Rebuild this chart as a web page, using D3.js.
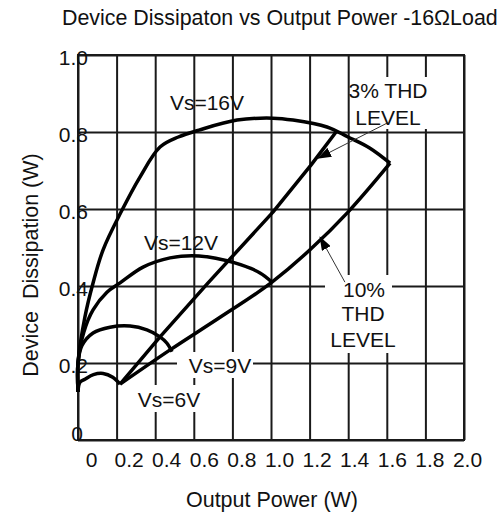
<!DOCTYPE html>
<html>
<head>
<meta charset="utf-8">
<script src="https://cdn.jsdelivr.net/npm/d3@7/dist/d3.min.js"></script>
<style>
	body { margin: 0; background: #fff; }
	svg text { font-family: "Liberation Sans", Arial, sans-serif; font-size: 21px; fill: #111; }
</style>
</head>
<body>
<div class="graphic"></div>
<script>
// ticks
var powerTicks = [0, 0.2, 0.4, 0.6, 0.8, 1.0, 1.2, 1.4, 1.6, 1.8, 2.0]
var powerLabels = ['0', '0.2', '0.4', '0.6', '0.8', '1.0', '1.2', '1.4', '1.6', '1.8', '2.0']
var dissTicks = [0, 0.2, 0.4, 0.6, 0.8, 1.0]
var dissLabels = ['0', '0.2', '0.4', '0.6', '0.8', '1.0']

// supply curves (output power W, dissipation W)
var vs6P = [0, 0.01, 0.036, 0.08, 0.13, 0.18, 0.218]
var vs6D = [0.125, 0.15, 0.158, 0.17, 0.173, 0.163, 0.145]

var vs9P = [0, 0, 0.02, 0.078, 0.166, 0.27, 0.357, 0.425, 0.46, 0.487]
var vs9D = [0.125, 0.2, 0.245, 0.278, 0.293, 0.296, 0.286, 0.268, 0.252, 0.229]

var vs12P = [0, 0, 0.03, 0.078, 0.15, 0.218, 0.337, 0.477, 0.627, 0.813, 0.943, 1.005]
var vs12D = [0.125, 0.2, 0.28, 0.338, 0.384, 0.408, 0.449, 0.473, 0.478, 0.46, 0.434, 0.41]

var vs16P = [0, 0, 0.036, 0.078, 0.13, 0.223, 0.321, 0.425, 0.52, 0.627, 0.824, 1.01, 1.114, 1.29, 1.399, 1.513, 1.617]
var vs16D = [0.125, 0.2, 0.32, 0.408, 0.494, 0.592, 0.683, 0.761, 0.787, 0.805, 0.831, 0.836, 0.831, 0.813, 0.787, 0.758, 0.719]

// distortion limit lines
var thd3P = [0.218, 0.425, 0.674, 1.01, 1.207, 1.337]
var thd3D = [0.145, 0.268, 0.408, 0.592, 0.714, 0.8]

var thd10P = [0.218, 0.477, 0.746, 1.005, 1.202, 1.399, 1.617]
var thd10D = [0.145, 0.234, 0.322, 0.41, 0.494, 0.592, 0.719]

var width = 504
var height = 513
var plotL = 78, plotR = 464, plotT = 55, plotB = 440

var svg = d3.select('.graphic').append('svg')
	.attr('width', width)
	.attr('height', height)

var x = d3.scaleLinear().domain([0, 2]).range([plotL, plotR])
var y = d3.scaleLinear().domain([0, 1]).range([plotB, plotT])
// the printed tick numbers sit a bit right of the grid lines
var xLab = x.copy().range([91, 467])

function translate(a, b) {
	return 'translate(' + a + ',' + b + ')'
}

// grid
svg.append('g')
	.attr('transform', translate(0, plotB))
	.call(d3.axisBottom(x).tickValues(powerTicks).tickSize(-(plotB - plotT)).tickFormat(''))
svg.append('g')
	.attr('transform', translate(plotL, 0))
	.call(d3.axisLeft(y).tickValues(dissTicks).tickSize(-(plotR - plotL)).tickFormat(''))
svg.selectAll('.domain').remove()
svg.selectAll('.tick line')
	.attr('stroke', '#1a1a1a')
	.attr('stroke-width', 2)
svg.append('rect')
	.attr('x', plotL).attr('y', plotT)
	.attr('width', plotR - plotL).attr('height', plotB - plotT)
	.attr('fill', 'none')
	.attr('stroke', '#1a1a1a')
	.attr('stroke-width', 2)

// white patches behind the in-plot labels
var patches = [
	[177, 352, 76, 26],
	[135, 385, 67, 27],
	[350, 77, 80, 52],
	[325, 275, 67, 78]
]
svg.selectAll('.patch').data(patches).enter().append('rect')
	.attr('class', 'patch')
	.attr('x', function(d) { return d[0] })
	.attr('y', function(d) { return d[1] })
	.attr('width', function(d) { return d[2] })
	.attr('height', function(d) { return d[3] })
	.attr('fill', '#fff')

// tick labels
var axX = svg.append('g')
	.attr('transform', translate(0, plotB))
	.call(d3.axisBottom(xLab).tickValues(powerTicks).tickSize(0).tickPadding(12)
		.tickFormat(function(d, i) { return powerLabels[i] }))
var axY = svg.append('g')
	.attr('transform', translate(88, 0))
	.call(d3.axisLeft(y).tickValues(dissTicks).tickSize(0).tickPadding(0)
		.tickFormat(function(d, i) { return dissLabels[i] }))
axX.select('.domain').remove()
axY.select('.domain').remove()
svg.selectAll('.tick text')
	.attr('fill', '#111')
	.style('font-size', '21px')
	.style('font-family', '"Liberation Sans", Arial, sans-serif')
axY.selectAll('.tick text').attr('dy', '0.45em')
axY.selectAll('.tick').filter(function(d) { return d === 0 })
	.select('text').attr('x', -5).attr('dy', '0')

// curves
var line = d3.line()
	.x(function(d) { return x(d[0]) })
	.y(function(d) { return y(d[1]) })
	.curve(d3.curveCatmullRom.alpha(0.5))
var straight = d3.line()
	.x(function(d) { return x(d[0]) })
	.y(function(d) { return y(d[1]) })
var bent = d3.line()
	.x(function(d) { return x(d[0]) })
	.y(function(d) { return y(d[1]) })
	.curve(d3.curveMonotoneX)

var curves = [
	{ d: d3.zip(vs6P, vs6D), gen: line },
	{ d: d3.zip(vs9P, vs9D), gen: line },
	{ d: d3.zip(vs12P, vs12D), gen: line },
	{ d: d3.zip(vs16P, vs16D), gen: line },
	{ d: d3.zip(thd3P, thd3D), gen: straight },
	{ d: d3.zip(thd10P, thd10D), gen: bent }
]
svg.selectAll('.curve').data(curves).enter().append('path')
	.attr('class', 'curve')
	.attr('d', function(c) { return c.gen(c.d) })
	.attr('fill', 'none')
	.attr('stroke', '#000')
	.attr('stroke-width', 3.5)
	.attr('stroke-linejoin', 'round')

// arrows
svg.append('defs').append('marker')
	.attr('id', 'head')
	.attr('markerUnits', 'userSpaceOnUse')
	.attr('markerWidth', 14).attr('markerHeight', 10)
	.attr('refX', 13).attr('refY', 5)
	.attr('orient', 'auto')
	.append('path')
	.attr('d', 'M0,0 L14,5 L0,10 Z')
	.attr('fill', '#000')

var arrows = [
	[[1.605, 0.824], [1.244, 0.732]],
	[[1.383, 0.41], [1.254, 0.527]]
]
svg.selectAll('.arrow').data(arrows).enter().append('line')
	.attr('class', 'arrow')
	.attr('x1', function(d) { return x(d[0][0]) })
	.attr('y1', function(d) { return y(d[0][1]) })
	.attr('x2', function(d) { return x(d[1][0]) })
	.attr('y2', function(d) { return y(d[1][1]) })
	.attr('stroke', '#333')
	.attr('stroke-width', 1)
	.attr('marker-end', 'url(#head)')

// in-plot labels
var notes = [
	['Vs=16V', 207, 110],
	['Vs=12V', 181, 250],
	['Vs=9V', 220, 373],
	['Vs=6V', 169, 407],
	['3% THD', 388, 98],
	['LEVEL', 388, 125],
	['10%', 364, 297],
	['THD', 363, 321],
	['LEVEL', 363, 347]
]
svg.selectAll('.note').data(notes).enter().append('text')
	.attr('class', 'note')
	.attr('x', function(d) { return d[1] })
	.attr('y', function(d) { return d[2] })
	.attr('text-anchor', 'middle')
	.text(function(d) { return d[0] })

// titles
svg.append('text')
	.attr('x', 62).attr('y', 25)
	.style('font-size', '21.4px')
	.text('Device Dissipaton vs Output Power -16\u03A9Load')
svg.append('text')
	.attr('x', 272).attr('y', 507)
	.attr('text-anchor', 'middle')
	.style('font-size', '21.5px')
	.text('Output Power (W)')
svg.append('text')
	.attr('transform', translate(38, 265) + ' rotate(-90)')
	.attr('text-anchor', 'middle')
	.style('font-size', '21.5px')
	.style('white-space', 'pre')
	.text('Device  Dissipation (W)')
</script>
</body>
</html>
